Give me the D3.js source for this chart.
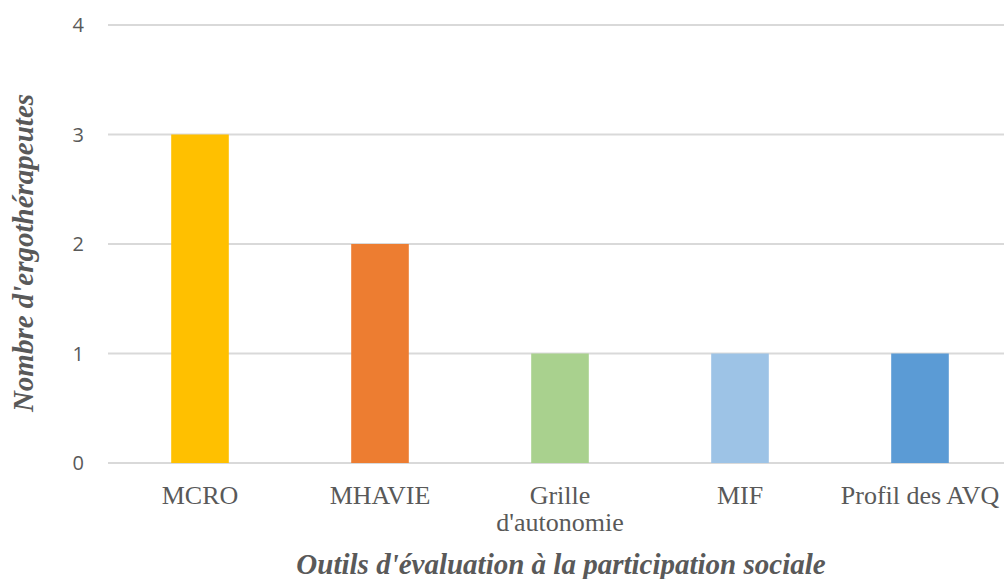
<!DOCTYPE html>
<html>
<head>
<meta charset="utf-8">
<script src="https://cdn.jsdelivr.net/npm/d3@7"></script>
<style>
  body { margin: 0; background: #fff; }
  svg { display: block; }
</style>
</head>
<body>
<svg id="chart"></svg>
<script>
// outils d'évaluation et nombre d'ergothérapeutes
const categories = ["MCRO", "MHAVIE", "Grille d'autonomie", "MIF", "Profil des AVQ"];
const values = [3, 2, 1, 1, 1];
const barColors = ["#FFC000", "#ED7D31", "#A9D18E", "#9DC3E6", "#5B9BD5"];
const yTicks = [0, 1, 2, 3, 4];

const width = 1004, height = 579;
const svg = d3.select("#chart").attr("width", width).attr("height", height);

var xScale = d3.scaleBand()
    .domain(categories)
    .range([110, 1010])
    .paddingInner(0.68)
    .paddingOuter(0.34);
var yScale = d3.scaleLinear()
    .domain([0, 4])
    .range([463, 25]);

// grid lines
svg.append("g")
    .selectAll("line")
    .data(yTicks)
    .enter()
    .append("line")
    .attr("x1", 108)
    .attr("x2", width)
    .attr("y1", d => yScale(d))
    .attr("y2", d => yScale(d))
    .attr("stroke", "#d9d9d9")
    .attr("stroke-width", 2);

// y tick labels
svg.append("g")
    .selectAll("text")
    .data(yTicks)
    .enter()
    .append("text")
    .attr("x", 84)
    .attr("y", d => yScale(d))
    .attr("dy", "0.35em")
    .attr("text-anchor", "end")
    .attr("fill", "#595959")
    .style("font-family", "'Open Sans', sans-serif")
    .style("font-size", "20px")
    .text(d => d);

// bars
svg.append("g")
    .selectAll("rect")
    .data(values)
    .enter()
    .append("rect")
    .attr("x", (d, i) => xScale(categories[i]))
    .attr("y", d => yScale(d))
    .attr("width", xScale.bandwidth())
    .attr("height", d => yScale(0) - yScale(d))
    .attr("fill", (d, i) => barColors[i]);

// category labels (Grille d'autonomie wraps on two lines)
const catLines = { "Grille d'autonomie": ["Grille", "d'autonomie"] };
svg.append("g")
    .selectAll("text")
    .data(categories)
    .enter()
    .append("text")
    .attr("x", d => xScale(d) + xScale.bandwidth() / 2)
    .attr("y", 504)
    .attr("text-anchor", "middle")
    .attr("fill", "#595959")
    .style("font-family", "'Liberation Serif', 'Times New Roman', serif")
    .style("font-size", "26px")
    .each(function (d) {
        const lines = catLines[d] || [d];
        const t = d3.select(this);
        lines.forEach((l, k) => {
            t.append("tspan")
                .attr("x", xScale(d) + xScale.bandwidth() / 2)
                .attr("dy", k === 0 ? 0 : 27)
                .text(l);
        });
    });

// axis titles
svg.append("text")
    .attr("transform", "translate(33," + 253 + ") rotate(-90)")
    .attr("text-anchor", "middle")
    .attr("fill", "#595959")
    .style("font-family", "'Liberation Serif', 'Times New Roman', serif")
    .style("font-size", "29px")
    .style("font-weight", "bold")
    .style("font-style", "italic")
    .text("Nombre d'ergothérapeutes");

svg.append("text")
    .attr("x", 561)
    .attr("y", 574)
    .attr("text-anchor", "middle")
    .attr("fill", "#595959")
    .style("font-family", "'Liberation Serif', 'Times New Roman', serif")
    .style("font-size", "29px")
    .style("font-weight", "bold")
    .style("font-style", "italic")
    .text("Outils d'évaluation à la participation sociale");
</script>
</body>
</html>
